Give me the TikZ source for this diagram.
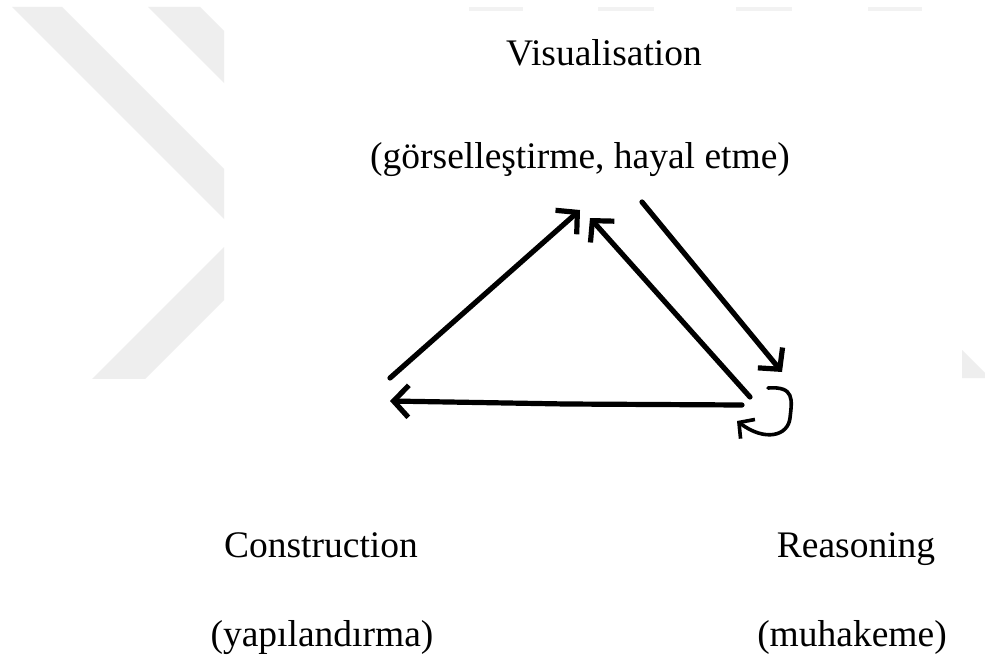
\documentclass[tikz,border=0pt]{standalone}
\usepackage{fontspec}
\setmainfont{Liberation Serif}
\usetikzlibrary{arrows.meta}
\definecolor{wm}{HTML}{EEEEEE}
\definecolor{wmtop}{HTML}{F2F2F2}
\begin{document}
\begin{tikzpicture}[x=1pt,y=-1pt,
  lbl/.style={font=\fontsize{37.5}{40}\selectfont, inner sep=0pt, anchor=base},
  wmark/.style={fill=wm, draw=none},
  conn/.style={line width=5.2pt, line cap=round,
    -{Straight Barb[length=15pt,width=32pt,line cap=butt]}},
  loopconn/.style={line width=3.6pt, line cap=round,
    -{Straight Barb[length=11pt,width=24pt,line cap=butt]}}]
\useasboundingbox (0,0) rectangle (985,661);
\fill[white] (0,0) rectangle (985,661);

% faint background chevron on the left
\begin{scope}
  \clip (0,7) rectangle (224,378);
  \fill[wmark] (12,7) -- (62,7) -- (412,357) -- (362,357) -- cycle;
  \fill[wmark] (148,7) -- (200,7) -- (550,357) -- (498,357) -- cycle;
  \fill[wmark] (224,247) -- (224,300) -- (143,381) -- (90,381) -- cycle;
\end{scope}
% faint background pieces on the top edge and right edge
\fill[wmtop] (469,7) rectangle (523,11);
\fill[wmtop] (598,7) rectangle (654,11);
\fill[wmtop] (736,7) rectangle (792,11);
\fill[wmtop] (868,7) rectangle (922,11);
\fill[wmark] (962,350) -- (985,373) -- (985,378) -- (962,378) -- cycle;

% labels
\node[lbl] (vis)  at (604,66)  {Visualisation};
\node[lbl] (vistr) at (580,168) {(görselleştirme, hayal etme)};
\node[lbl] (con)  at (321,557) {Construction};
\node[lbl] (contr) at (322,646) {(yapılandırma)};
\node[lbl] (rea)  at (856,557) {Reasoning};
\node[lbl] (reatr) at (852,646) {(muhakeme)};

% connector end points
\coordinate (c1s) at (390,378);
\coordinate (c1e) at (580,210);
\coordinate (c2s) at (750,397);
\coordinate (c2e) at (590,218);
\coordinate (c3s) at (642,202);
\coordinate (c3e) at (782,372);
\coordinate (c4s) at (742,405);
\coordinate (c4m) at (566,404);
\coordinate (c4e) at (390,401);
\coordinate (c5s) at (768,388);
\coordinate (c5e) at (737,421);

% connectors
\draw[conn] (c1s) -- (c1e);
\draw[conn] (c2s) -- (c2e);
\draw[conn] (c3s) -- (c3e);
\draw[conn] (c4s) -- (c4m) -- (c4e);
\draw[loopconn] (c5s) .. controls (795,386) and (792,400) .. (790,418)
  .. controls (788,436) and (765,442) .. (c5e);
\end{tikzpicture}
\end{document}
